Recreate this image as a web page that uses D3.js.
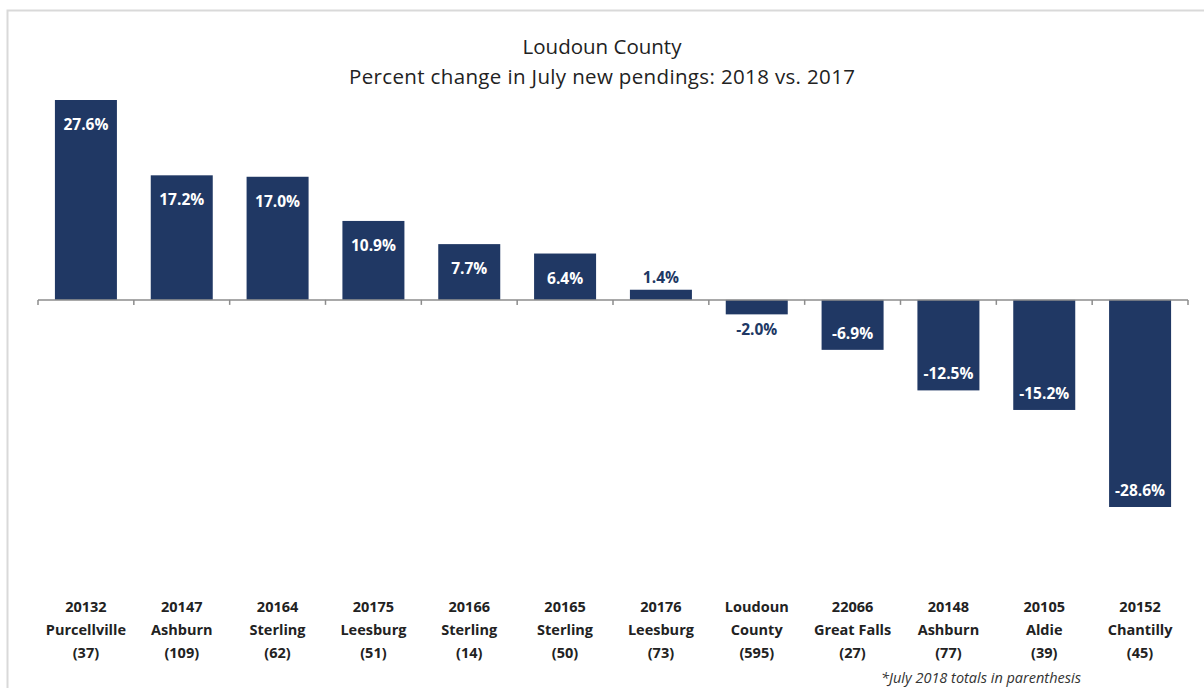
<!DOCTYPE html>
<html>
<head>
<meta charset="utf-8">
<script src="https://cdn.jsdelivr.net/npm/d3@7"></script>
<style>
  body { margin: 0; background: #fff; }
  svg { font-family: "Open Sans", sans-serif; }
</style>
</head>
<body>
<div id="chart"></div>
<script>
// zip codes, town names and July 2018 totals
var zips = ["20132","20147","20164","20175","20166","20165","20176","Loudoun","22066","20148","20105","20152"]
var towns = ["Purcellville","Ashburn","Sterling","Leesburg","Sterling","Sterling","Leesburg","County","Great Falls","Ashburn","Aldie","Chantilly"]
var totals = ["(37)","(109)","(62)","(51)","(14)","(50)","(73)","(595)","(27)","(77)","(39)","(45)"]
var changes = [27.6, 17.2, 17.0, 10.9, 7.7, 6.4, 1.4, -2.0, -6.9, -12.5, -15.2, -28.6]

var navy = "#203864"

var svg = d3.select("#chart").append("svg")
            .attr("width", 1204)
            .attr("height", 688)

// light frame, only top and left show in the picture
svg.append("path")
   .attr("d", "M7.5,688 L7.5,10.5 L1204,10.5")
   .style("fill", "none")
   .style("stroke", "#d9d9d9")
   .style("stroke-width", 2)

svg.append("text").text("Loudoun County")
   .attr("x", 602).attr("y", 54)
   .attr("text-anchor", "middle")
   .style("font-size", "20.5px")
   .style("fill", "#222")

svg.append("text").text("Percent change in July new pendings: 2018 vs. 2017")
   .attr("x", 602).attr("y", 84)
   .attr("text-anchor", "middle")
   .style("font-size", "20.5px")
   .attr("textLength", 506)
   .style("fill", "#222")

var band = d3.scaleBand().domain(zips.map((d, i) => i)).range([38, 1188])
var y = d3.scaleLinear().domain([-28.6, 27.6]).range([507, 100])

// bars
svg.append("g").selectAll("rect").data(changes)
   .enter().append("rect")
   .attr("x", (d, i) => band(i) + band.bandwidth() / 2 - 31)
   .attr("width", 62)
   .attr("y", d => d >= 0 ? y(d) : y(0))
   .attr("height", d => Math.abs(y(d) - y(0)))
   .style("fill", navy)

// axis line with ticks between categories
var ticks = d3.range(13).map(i => i < 12 ? band(i) : band.range()[1])
svg.append("line")
   .attr("x1", 38).attr("x2", 1188)
   .attr("y1", y(0)).attr("y2", y(0))
   .style("stroke", "#8c8c8c").style("stroke-width", 1.5)
svg.append("g").selectAll("line").data(ticks)
   .enter().append("line")
   .attr("x1", d => d).attr("x2", d => d)
   .attr("y1", y(0)).attr("y2", y(0) + 5)
   .style("stroke", "#8c8c8c").style("stroke-width", 1.5)

// value labels: inside the bar when it is tall enough, otherwise outside
svg.append("g").selectAll("text").data(changes)
   .enter().append("text")
   .text(d => d.toFixed(1) + "%")
   .attr("x", (d, i) => band(i) + band.bandwidth() / 2)
   .attr("y", function(d) {
       if (d > 3) return y(d) + 30
       if (d >= 0) return y(d) - 7
       if (d > -3) return y(d) + 21
       return y(d) - 11
   })
   .attr("text-anchor", "middle")
   .style("font-size", "15.5px")
   .style("font-weight", "bold")
   .style("fill", d => Math.abs(d) > 3 ? "#fff" : navy)

// category labels
var cats = svg.append("g").selectAll("text").data(zips)
   .enter().append("text")
   .attr("text-anchor", "middle")
   .style("font-size", "14.5px")
   .style("font-weight", "bold")
   .style("fill", "#222")
cats.append("tspan").text(d => d).attr("x", (d, i) => band(i) + band.bandwidth() / 2).attr("y", 612)
cats.append("tspan").text((d, i) => towns[i]).attr("x", (d, i) => band(i) + band.bandwidth() / 2).attr("y", 635)
cats.append("tspan").text((d, i) => totals[i]).attr("x", (d, i) => band(i) + band.bandwidth() / 2).attr("y", 658)

svg.append("text").text("*July 2018 totals in parenthesis")
   .attr("x", 981).attr("y", 683)
   .attr("text-anchor", "middle")
   .style("font-size", "14.5px")
   .style("font-style", "italic")
   .style("fill", "#333")
</script>
</body>
</html>
